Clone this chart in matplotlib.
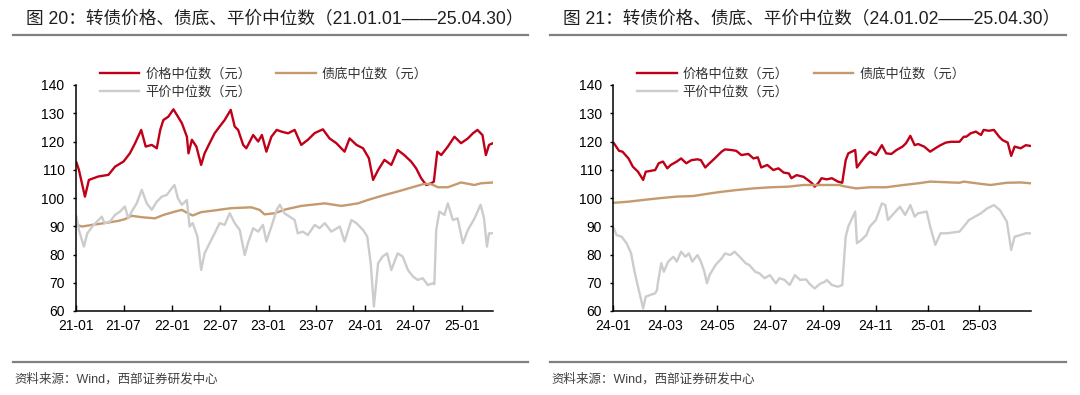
import matplotlib
matplotlib.use('Agg')
import matplotlib.pyplot as plt
import matplotlib.dates as mdates
from matplotlib.lines import Line2D
import pandas as pd

plt.rcParams['font.family'] = ['Liberation Sans', 'Noto Sans CJK SC']

# ---------- left chart data (21.01.01 - 25.04.30) ----------
left_price_dates = ['2021-01-04', '2021-01-13', '2021-02-05', '2021-02-20', '2021-03-27', '2021-05-05',
                    '2021-05-30', '2021-07-01', '2021-07-25', '2021-08-14', '2021-09-06', '2021-09-23',
                    '2021-10-16', '2021-11-04', '2021-11-17', '2021-11-29', '2021-12-18', '2022-01-06',
                    '2022-01-23', '2022-02-07', '2022-02-26', '2022-03-04', '2022-03-17', '2022-04-03',
                    '2022-04-21', '2022-05-04', '2022-05-23', '2022-06-11', '2022-06-30', '2022-07-19',
                    '2022-08-11', '2022-08-26', '2022-09-08', '2022-09-27', '2022-10-09', '2022-11-04',
                    '2022-11-23', '2022-12-07', '2022-12-24', '2023-01-12', '2023-02-01', '2023-02-19',
                    '2023-03-16', '2023-04-10', '2023-05-05', '2023-05-30', '2023-06-25', '2023-07-26',
                    '2023-08-20', '2023-09-15', '2023-10-16', '2023-11-04', '2023-11-30', '2023-12-25',
                    '2024-01-16', '2024-02-01', '2024-02-20', '2024-03-15', '2024-04-10', '2024-05-04',
                    '2024-05-29', '2024-06-24', '2024-07-13', '2024-08-01', '2024-08-20', '2024-09-08',
                    '2024-09-18', '2024-10-01', '2024-10-16', '2024-11-10', '2024-12-05', '2024-12-30',
                    '2025-01-25', '2025-02-13', '2025-03-02', '2025-03-21', '2025-04-03', '2025-04-15',
                    '2025-04-30']
left_price = [112.5, 110.0, 100.5, 106.4, 107.6, 108.2,
              111.1, 112.9, 115.8, 119.4, 124.1, 118.2,
              118.8, 117.6, 124.1, 127.6, 128.8, 131.4,
              128.8, 126.5, 121.7, 115.8, 120.6, 118.2,
              111.7, 115.8, 119.4, 122.9, 125.3, 127.6,
              131.2, 125.3, 124.1, 118.8, 117.6, 122.3,
              120.0, 122.3, 116.4, 121.7, 124.1, 123.5,
              122.9, 124.1, 118.8, 120.6, 123.0, 124.3,
              121.1, 119.4, 116.4, 121.1, 118.8, 117.6,
              114.1, 106.4, 109.9, 113.5, 111.7, 117.0,
              115.2, 112.9, 110.5, 107.0, 104.6, 105.2,
              105.8, 116.4, 115.2, 118.2, 121.7, 119.4,
              121.1, 122.9, 124.1, 122.3, 115.2, 118.8,
              119.4]

left_floor_dates = ['2021-01-04', '2021-01-25', '2021-03-05', '2021-04-20', '2021-06-11', '2021-07-06',
                    '2021-08-01', '2021-09-08', '2021-10-28', '2021-11-29', '2022-01-12', '2022-02-07',
                    '2022-03-02', '2022-03-20', '2022-04-21', '2022-06-11', '2022-07-19', '2022-08-13',
                    '2022-10-28', '2022-11-28', '2022-12-17', '2023-01-24', '2023-03-08', '2023-05-05',
                    '2023-08-02', '2023-10-04', '2023-12-06', '2024-01-12', '2024-03-02', '2024-05-04',
                    '2024-07-06', '2024-08-13', '2024-09-08', '2024-10-04', '2024-11-10', '2024-12-30',
                    '2025-02-18', '2025-03-15', '2025-04-30']
left_floor = [90.5, 89.9, 90.5, 91.1, 91.9, 92.5,
              93.7, 93.2, 92.8, 94.0, 95.2, 95.8,
              94.6, 93.8, 95.0, 95.6, 96.1, 96.4,
              96.7, 95.8, 94.2, 94.6, 96.0, 97.2,
              98.1, 97.2, 98.1, 99.3, 100.7, 102.3,
              104.0, 105.0, 104.9, 103.8, 103.8, 105.5,
              104.6, 105.2, 105.5]

left_parity_dates = ['2021-01-04', '2021-01-13', '2021-02-01', '2021-02-14', '2021-03-05', '2021-03-23',
                     '2021-04-10', '2021-04-20', '2021-05-11', '2021-05-30', '2021-06-18', '2021-07-06',
                     '2021-07-19', '2021-08-01', '2021-08-20', '2021-09-08', '2021-09-27', '2021-10-16',
                     '2021-11-04', '2021-11-23', '2021-12-12', '2021-12-31', '2022-01-10', '2022-01-23',
                     '2022-02-07', '2022-02-26', '2022-03-08', '2022-03-20', '2022-04-07', '2022-04-21',
                     '2022-05-04', '2022-05-23', '2022-06-11', '2022-06-30', '2022-07-19', '2022-08-07',
                     '2022-08-26', '2022-09-14', '2022-10-03', '2022-10-15', '2022-11-04', '2022-11-23',
                     '2022-12-11', '2022-12-24', '2023-01-12', '2023-02-01', '2023-02-13', '2023-03-02',
                     '2023-03-22', '2023-04-10', '2023-04-22', '2023-05-11', '2023-05-30', '2023-06-25',
                     '2023-07-13', '2023-08-02', '2023-08-27', '2023-09-28', '2023-10-16', '2023-11-11',
                     '2023-11-30', '2023-12-25', '2024-01-10', '2024-01-23', '2024-02-04', '2024-02-20',
                     '2024-03-08', '2024-03-25', '2024-04-10', '2024-05-04', '2024-05-23', '2024-06-12',
                     '2024-07-01', '2024-07-19', '2024-08-07', '2024-08-26', '2024-09-14', '2024-09-20',
                     '2024-09-27', '2024-10-09', '2024-10-28', '2024-11-10', '2024-11-29', '2024-12-17',
                     '2025-01-06', '2025-01-25', '2025-02-19', '2025-03-14', '2025-03-27', '2025-04-07',
                     '2025-04-15', '2025-04-30']
left_parity = [93.4, 88.7, 82.8, 87.5, 89.9, 91.7,
               93.4, 91.1, 91.7, 94.0, 95.2, 97.0,
               92.8, 95.2, 98.1, 102.9, 98.1, 95.8,
               98.7, 100.5, 101.1, 103.5, 104.6, 99.9,
               97.6, 99.3, 89.9, 91.1, 86.3, 74.5,
               80.4, 84.0, 87.5, 91.1, 90.5, 94.6,
               91.1, 88.7, 79.8, 84.0, 89.3, 88.1,
               90.5, 84.6, 89.9, 95.8, 97.6, 94.6,
               93.4, 92.2, 87.5, 88.1, 86.9, 90.5,
               89.3, 91.1, 88.1, 89.9, 84.6, 92.2,
               91.1, 88.7, 86.3, 76.9, 61.6, 76.9,
               79.3, 80.4, 74.5, 80.4, 79.3, 74.5,
               72.2, 71.0, 71.6, 69.2, 69.8, 69.5,
               88.7, 95.2, 94.0, 98.1, 92.2, 92.8,
               84.0, 88.7, 92.8, 97.6, 92.8, 82.8,
               87.5, 87.5]

# ---------- right chart data (24.01.02 - 25.04.30) ----------
right_price_dates = ['2024-01-02', '2024-01-08', '2024-01-12', '2024-01-19', '2024-01-24', '2024-01-30',
                     '2024-02-05', '2024-02-08', '2024-02-19', '2024-02-23', '2024-02-28', '2024-03-04',
                     '2024-03-08', '2024-03-15', '2024-03-20', '2024-03-26', '2024-04-01', '2024-04-08',
                     '2024-04-12', '2024-04-17', '2024-04-22', '2024-04-28', '2024-05-06', '2024-05-10',
                     '2024-05-17', '2024-05-23', '2024-05-29', '2024-06-06', '2024-06-12', '2024-06-17',
                     '2024-06-21', '2024-06-28', '2024-07-05', '2024-07-11', '2024-07-17', '2024-07-23',
                     '2024-07-26', '2024-08-01', '2024-08-09', '2024-08-14', '2024-08-19', '2024-08-22',
                     '2024-08-26', '2024-08-30', '2024-09-05', '2024-09-11', '2024-09-18', '2024-09-23',
                     '2024-09-24', '2024-09-27', '2024-09-30', '2024-10-08', '2024-10-10', '2024-10-15',
                     '2024-10-21', '2024-10-25', '2024-11-01', '2024-11-08', '2024-11-13', '2024-11-19',
                     '2024-11-25', '2024-12-02', '2024-12-06', '2024-12-11', '2024-12-16', '2024-12-20',
                     '2024-12-27', '2025-01-03', '2025-01-09', '2025-01-15', '2025-01-21', '2025-01-27',
                     '2025-02-06', '2025-02-11', '2025-02-14', '2025-02-19', '2025-02-25', '2025-03-03',
                     '2025-03-06', '2025-03-12', '2025-03-18', '2025-03-24', '2025-03-28', '2025-04-03',
                     '2025-04-07', '2025-04-11', '2025-04-18', '2025-04-24', '2025-04-30']
right_price = [119.4, 116.7, 116.4, 114.0, 111.1, 109.3,
               106.4, 109.3, 109.9, 112.3, 112.9, 110.5,
               111.7, 112.9, 114.0, 112.3, 113.4, 113.7,
               113.4, 110.8, 112.3, 114.0, 116.4, 117.2,
               117.0, 116.7, 115.2, 115.6, 114.0, 114.4,
               110.8, 111.7, 109.9, 110.5, 109.0, 108.7,
               107.0, 108.1, 107.5, 106.4, 105.2, 104.0,
               105.2, 107.0, 106.6, 107.0, 105.8, 105.4,
               107.5, 113.4, 115.8, 117.0, 110.8, 112.9,
               115.2, 116.4, 115.2, 118.7, 115.8, 115.6,
               117.0, 118.2, 119.4, 122.0, 118.7, 119.1,
               118.2, 116.4, 117.6, 118.7, 119.6, 119.9,
               119.9, 121.7, 121.7, 122.9, 123.5, 122.3,
               124.1, 123.8, 124.1, 121.7, 120.5, 119.6,
               114.9, 118.2, 117.6, 118.7, 118.4]

right_floor_dates = ['2024-01-02', '2024-01-19', '2024-02-05', '2024-02-23', '2024-03-15', '2024-04-03',
                     '2024-04-22', '2024-05-06', '2024-05-23', '2024-06-12', '2024-07-02', '2024-07-22',
                     '2024-08-09', '2024-08-23', '2024-09-20', '2024-09-24', '2024-10-09', '2024-10-25',
                     '2024-11-13', '2024-12-03', '2024-12-20', '2025-01-03', '2025-02-06', '2025-02-11',
                     '2025-03-03', '2025-03-14', '2025-04-02', '2025-04-18', '2025-04-30']
right_floor = [98.3, 98.7, 99.3, 99.9, 100.5, 100.7,
               101.6, 102.2, 102.8, 103.4, 103.8, 104.0,
               104.6, 104.6, 104.6, 104.2, 103.4, 103.8,
               103.8, 104.6, 105.2, 105.8, 105.4, 105.8,
               105.0, 104.6, 105.4, 105.5, 105.2]

right_parity_dates = ['2024-01-02', '2024-01-05', '2024-01-11', '2024-01-17', '2024-01-22', '2024-01-26',
                      '2024-01-30', '2024-02-05', '2024-02-08', '2024-02-19', '2024-02-21', '2024-02-22',
                      '2024-02-26', '2024-02-29', '2024-03-05', '2024-03-11', '2024-03-15', '2024-03-20',
                      '2024-03-25', '2024-03-29', '2024-04-02', '2024-04-08', '2024-04-12', '2024-04-16',
                      '2024-04-19', '2024-04-22', '2024-04-29', '2024-05-06', '2024-05-10', '2024-05-16',
                      '2024-05-21', '2024-05-27', '2024-06-03', '2024-06-07', '2024-06-14', '2024-06-19',
                      '2024-06-25', '2024-07-01', '2024-07-08', '2024-07-12', '2024-07-18', '2024-07-24',
                      '2024-07-30', '2024-08-05', '2024-08-12', '2024-08-16', '2024-08-22', '2024-08-28',
                      '2024-09-03', '2024-09-05', '2024-09-11', '2024-09-18', '2024-09-23', '2024-09-27',
                      '2024-09-30', '2024-10-08', '2024-10-10', '2024-10-15', '2024-10-21', '2024-10-25',
                      '2024-11-01', '2024-11-08', '2024-11-12', '2024-11-15', '2024-11-22', '2024-11-29',
                      '2024-12-05', '2024-12-11', '2024-12-16', '2024-12-20', '2024-12-30', '2025-01-03',
                      '2025-01-09', '2025-01-15', '2025-01-22', '2025-02-06', '2025-02-11', '2025-02-17',
                      '2025-02-24', '2025-03-03', '2025-03-10', '2025-03-18', '2025-03-25', '2025-04-02',
                      '2025-04-07', '2025-04-11', '2025-04-18', '2025-04-24', '2025-04-30']
right_parity = [89.3, 86.9, 86.3, 83.9, 80.4, 73.9,
                68.6, 60.9, 65.1, 66.3, 67.4, 69.8,
                76.9, 73.9, 77.5, 79.2, 77.5, 81.0,
                79.2, 80.4, 77.5, 79.8, 77.5, 73.9,
                69.8, 72.7, 76.3, 78.6, 80.4, 79.8,
                81.0, 79.2, 76.9, 76.3, 73.9, 73.3,
                71.6, 72.7, 69.8, 71.6, 71.0, 69.2,
                72.7, 71.0, 71.2, 69.6, 68.0, 69.6,
                70.4, 71.0, 69.2, 68.6, 69.2, 86.3,
                89.9, 95.2, 84.0, 85.1, 86.9, 89.9,
                92.2, 98.1, 97.5, 92.2, 94.6, 96.9,
                94.0, 97.5, 93.4, 94.6, 95.2, 89.9,
                83.4, 87.5, 87.5, 88.1, 89.9, 92.2,
                93.4, 94.6, 96.3, 97.5, 95.7, 91.6,
                81.6, 86.3, 86.9, 87.5, 87.5]

yticks = [60, 70, 80, 90, 100, 110, 120, 130, 140]
label_price = '价格中位数（元）'
label_floor = '债底中位数（元）'
label_parity = '平价中位数（元）'
src_text = '资料来源：Wind，西部证券研发中心'

RED = '#C00018'
TAN = '#C49A6E'
GREY = '#CCCCCC'
W, H = 1080, 395


def fx(px):
    return px / W


def fy(py):
    return 1 - py / H


fig = plt.figure(figsize=(10.8, 3.95), dpi=100)


def draw_panel(x0, x1, axis_left, axis_right, title, series, xstart, xend, tick_dates):
    # title + separator lines + source note
    fig.text(fx(x0 + 13), fy(19), title, fontsize=12.7, color='#1f1f1f', va='center', ha='left')
    fig.add_artist(Line2D([fx(x0), fx(x1)], [fy(35), fy(35)], color='#808080', lw=1.6))
    fig.add_artist(Line2D([fx(x0), fx(x1)], [fy(362), fy(362)], color='#808080', lw=1.6))
    fig.text(fx(x0 + 1), fy(379), src_text, fontsize=9, color='#404040', va='center', ha='left')

    ax = fig.add_axes([fx(axis_left), fy(311), fx(axis_right - axis_left), fy(85) - fy(311)])
    handles = {}
    for dates, vals, color, lab in series:
        ln, = ax.plot(pd.to_datetime(dates), vals, color=color, lw=1.7, label=lab)
        handles[lab] = ln
    ax.set_xlim(pd.Timestamp(xstart), pd.Timestamp(xend))
    ax.set_ylim(60, 140)
    ax.set_yticks(yticks)
    ax.set_xticks(pd.to_datetime(tick_dates))
    ax.xaxis.set_major_formatter(mdates.DateFormatter('%y-%m'))
    for s in ['top', 'right']:
        ax.spines[s].set_visible(False)
    for s in ['left', 'bottom']:
        ax.spines[s].set_linewidth(1.1)
        ax.spines[s].set_color('#000000')
    ax.tick_params(axis='x', direction='in', length=4.5, width=1, pad=6, labelsize=10)
    ax.tick_params(axis='y', direction='out', length=2, width=1, pad=6, labelsize=10)

    # legend: two columns, price + parity on the left, floor on the right
    order = [label_price, label_parity, label_floor]
    leg = fig.legend([handles[k] for k in order], order, loc='upper left',
                     bbox_to_anchor=(fx(axis_left + 24), fy(68)), ncol=2, frameon=False,
                     fontsize=9.5, handlelength=3.0, handletextpad=0.45, columnspacing=1.9,
                     labelspacing=0.35, borderpad=0, borderaxespad=0)
    for t in leg.get_texts():
        t.set_color('#333333')
    return ax


left_ticks = ['2021-01-01', '2021-07-01', '2022-01-01', '2022-07-01', '2023-01-01',
              '2023-07-01', '2024-01-01', '2024-07-01', '2025-01-01']
right_ticks = ['2024-01-01', '2024-03-01', '2024-05-01', '2024-07-01', '2024-09-01',
               '2024-11-01', '2025-01-01', '2025-03-01']

draw_panel(13, 528, 75.7, 493,
           '图 20：转债价格、债底、平价中位数（21.01.01——25.04.30）',
           [(left_price_dates, left_price, RED, label_price),
            (left_floor_dates, left_floor, TAN, label_floor),
            (left_parity_dates, left_parity, GREY, label_parity)],
           '2021-01-01', '2025-04-30', left_ticks)

draw_panel(550, 1066, 613, 1031,
           '图 21：转债价格、债底、平价中位数（24.01.02——25.04.30）',
           [(right_price_dates, right_price, RED, label_price),
            (right_floor_dates, right_floor, TAN, label_floor),
            (right_parity_dates, right_parity, GREY, label_parity)],
           '2024-01-01', '2025-04-30', right_ticks)

fig.savefig('out.png', dpi=100)
